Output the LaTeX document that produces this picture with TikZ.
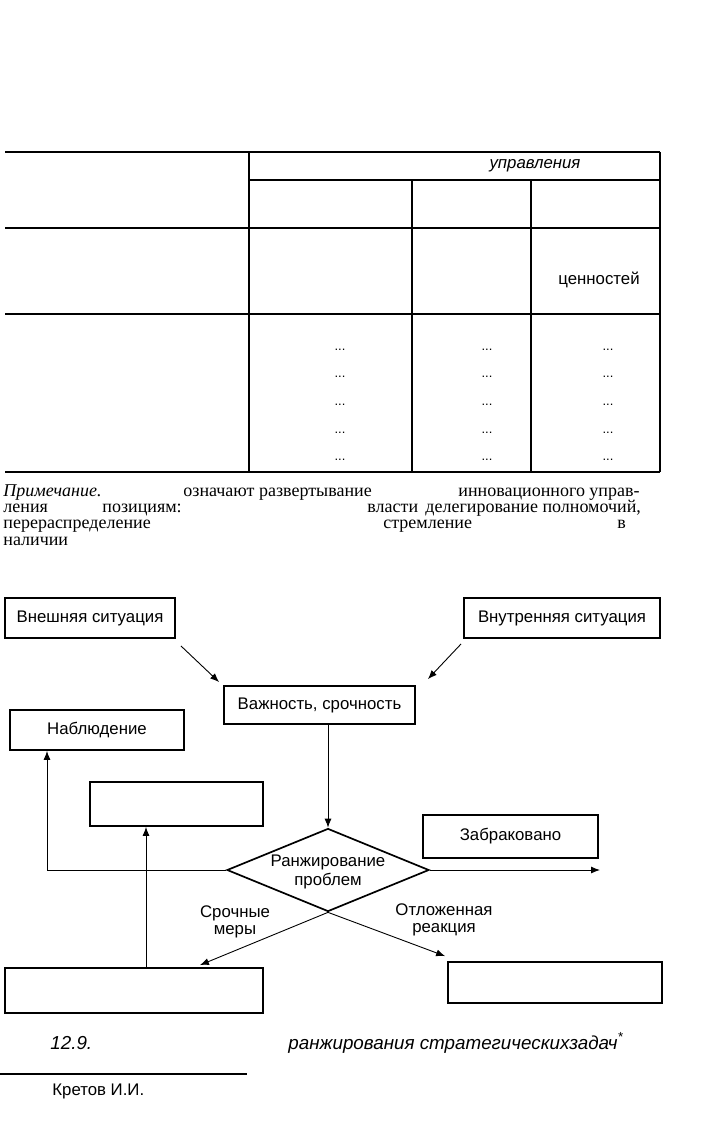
\documentclass[tikz,border=0pt]{standalone}
\usepackage{fontspec}
\setmainfont{Liberation Sans}
\newfontfamily\notefont{Liberation Serif}
\usetikzlibrary{arrows.meta,shapes.geometric}

\tikzset{
  box/.style={draw, line width=0.9pt, inner sep=0pt, font=\fontsize{8.4}{10}\selectfont},
  arr/.style={-{Latex[length=4.5pt,width=3.5pt]}, line width=0.45pt},
  tline/.style={line width=0.9pt},
  note/.style={anchor=base west, inner sep=0pt, font=\notefont\fontsize{9}{11}\selectfont},
  lbl/.style={inner sep=0pt, align=center, font=\fontsize{8.4}{8.5}\selectfont},
  dotcell/.style={inner sep=0pt, font=\fontsize{6.5}{7}\selectfont},
}

\begin{document}
\begin{tikzpicture}[x=0.5pt,y=-0.5pt]
\useasboundingbox (0,0) rectangle (700,1122);

% table
\draw[tline] (5,152) -- (660,152);
\draw[tline] (249,180) -- (660,180);
\draw[tline] (5,228) -- (660,228);
\draw[tline] (5,314) -- (660,314);
\draw[tline] (5,472) -- (660,472);
\draw[tline] (249,152) -- (249,472);
\draw[tline] (412,180) -- (412,472);
\draw[tline] (531,180) -- (531,472);
\draw[tline] (660,152) -- (660,472);

\node[inner sep=0pt, font=\itshape\fontsize{8.4}{10}\selectfont] (upr) at (535,166) {управления};
\node[inner sep=0pt, font=\fontsize{8.4}{10}\selectfont] (cen) at (599,280) {ценностей};
\foreach \y in {350,377,405,433,460}
  \foreach \x in {340,487,608}
    \node[dotcell] (d-\x-\y) at (\x,\y) {...};

% note
\node[note] (n1) at (3,496) {\itshape Примечание.};
\node[note] (n2) at (183,496) {означают развертывание};
\node[note] (n3) at (458,496) {инновационного управ-};
\node[note] (n4) at (3,512) {ления};
\node[note] (n5) at (102,512) {позициям:};
\node[note] (n6) at (367,512) {власти};
\node[note] (n7) at (425,512) {делегирование полномочий,};
\node[note] (n8) at (3,528) {перераспределение};
\node[note] (n9) at (383,528) {стремление};
\node[note] (n10) at (617,528) {в};
\node[note] (n11) at (3,545) {наличии};

% scheme
\node[box, minimum width=85pt, minimum height=20pt] (ext) at (90,618) {Внешняя ситуация};
\node[box, minimum width=98pt, minimum height=20pt] (int) at (562,618) {Внутренняя ситуация};
\node[box, minimum width=95.5pt, minimum height=19pt] (imp) at (319.5,705) {Важность, срочность};
\node[box, minimum width=87pt, minimum height=20pt] (obs) at (97,730) {Наблюдение};
\node[box, minimum width=86.5pt, minimum height=22pt] (act) at (176.5,804) {};
\node[box, minimum width=87.5pt, minimum height=21.5pt] (rej) at (510.5,836.5) {Забраковано};
\node[diamond, draw, line width=0.85pt, inner sep=0pt, minimum width=101pt, minimum height=41.5pt] (rank) at (328,870) {};
\node[lbl, font=\fontsize{8.4}{9.8}\selectfont] (ranktxt) at (328,872) {Ранжирование\\проблем};
\node[box, minimum width=129pt, minimum height=22.5pt] (urg) at (134,990.5) {};
\node[box, minimum width=107pt, minimum height=20.5pt] (post) at (555,982.5) {};
\coordinate (out) at (600,870);

\draw[arr] ([shift={(2.5pt,-3.5pt)}]ext.south east) -- ([shift={(-2pt,1.5pt)}]imp.north west);
\draw[arr] ([shift={(-1pt,-2.5pt)}]int.south west) -- ([shift={(6pt,3pt)}]imp.north east);
\draw[arr] (imp.south -| rank.north) -- (rank.north);
\draw[arr] (rank.west) -| ([xshift=-25pt]obs.south);
\draw[arr] (rank.east) -- (out);
\draw[arr] ([xshift=6pt]urg.north) -- ([xshift=6pt]urg.north |- act.south);
\draw[arr] (rank.south) -- ([shift={(-32pt,1pt)}]urg.north east);
\draw[arr] (rank.south) -- ([shift={(-1pt,2.5pt)}]post.north west);

\node[lbl] (srm) at (235,922) {Срочные\\меры};
\node[lbl] (otr) at (444,920) {Отложенная\\реакция};

% caption
\node[anchor=base west, inner sep=0pt, font=\itshape\fontsize{9.4}{11}\selectfont] (fig) at (50,1049) {12.9.};
\node[anchor=base west, inner sep=0pt, font=\itshape\fontsize{9.4}{11}\selectfont] (cap) at (288,1049) {ранжирования стратегическихзадач\textsuperscript{*}};
\draw[line width=0.6pt] (0,1074) -- (247,1074);
\node[anchor=base west, inner sep=0pt, font=\fontsize{8.4}{10}\selectfont] (auth) at (52,1095) {Кретов И.И.};
\end{tikzpicture}
\end{document}
